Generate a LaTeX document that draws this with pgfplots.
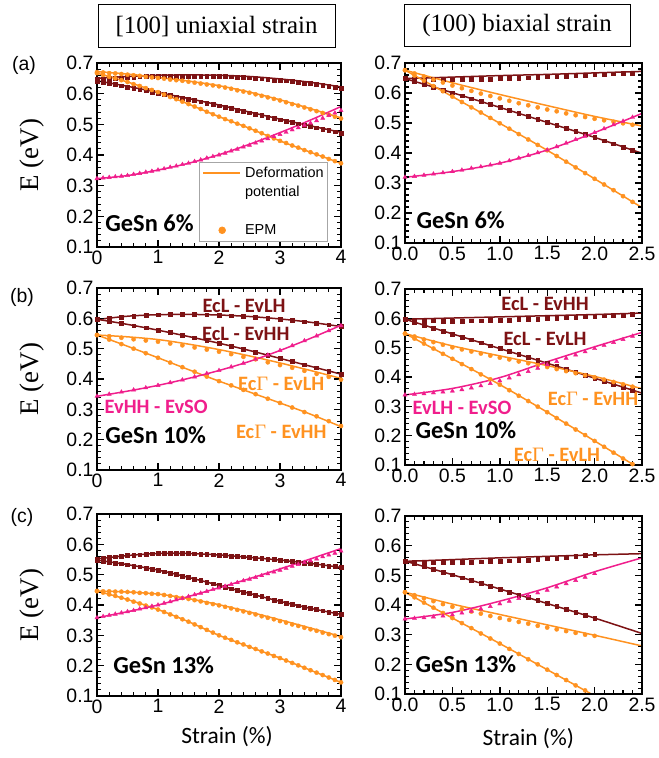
\documentclass[border=0pt]{standalone}
\usepackage{fontspec}
\usepackage{pgfplots}
\usepackage{pgfplotstable}
\pgfplotsset{compat=1.18}
\setmainfont{Liberation Sans}
\newfontfamily\tickf{Liberation Sans}
\newfontfamily\serp{Liberation Serif}
\newfontfamily\calf{Carlito}
\definecolor{dred}{RGB}{125,18,20}
\definecolor{orng}{RGB}{255,146,32}
\definecolor{pnk}{RGB}{240,30,140}

% ---------- data: x, a=EcL(upper), b=EcL(lower), c=EcG(upper), d=EcG(lower), e=EvSO
\pgfplotstableread{
x a b c d e
0.0 0.650 0.642 0.672 0.667 0.323
0.5 0.656 0.624 0.664 0.638 0.333
1.0 0.660 0.604 0.653 0.605 0.351
1.5 0.661 0.584 0.641 0.566 0.373
2.0 0.660 0.563 0.626 0.525 0.401
2.5 0.656 0.540 0.605 0.487 0.435
3.0 0.648 0.517 0.580 0.446 0.473
3.5 0.637 0.495 0.551 0.409 0.514
4.0 0.622 0.474 0.521 0.373 0.558
}\datALline
\pgfplotstableread{
x a b c d e
0.0 0.648 0.641 0.670 0.667 0.323
0.1 0.649 0.637 0.669 0.661 0.325
0.2 0.650 0.634 0.667 0.655 0.327
0.3 0.651 0.630 0.666 0.650 0.329
0.4 0.652 0.626 0.664 0.644 0.331
0.5 0.653 0.622 0.662 0.638 0.333
0.6 0.654 0.618 0.660 0.631 0.337
0.7 0.655 0.614 0.658 0.625 0.340
0.8 0.656 0.610 0.655 0.618 0.344
0.9 0.656 0.606 0.653 0.612 0.347
1.0 0.657 0.602 0.651 0.605 0.351
1.1 0.657 0.598 0.649 0.597 0.355
1.2 0.657 0.594 0.646 0.589 0.360
1.3 0.658 0.590 0.644 0.582 0.364
1.4 0.658 0.586 0.642 0.574 0.369
1.5 0.658 0.582 0.639 0.566 0.373
1.6 0.658 0.578 0.636 0.558 0.379
1.7 0.658 0.574 0.633 0.550 0.384
1.8 0.657 0.569 0.630 0.541 0.390
1.9 0.657 0.565 0.627 0.533 0.395
2.0 0.657 0.561 0.624 0.525 0.400
2.1 0.656 0.556 0.620 0.517 0.406
2.2 0.655 0.552 0.616 0.510 0.413
2.3 0.654 0.547 0.611 0.502 0.419
2.4 0.653 0.543 0.607 0.495 0.426
2.5 0.652 0.538 0.603 0.487 0.432
2.6 0.650 0.533 0.598 0.479 0.439
2.7 0.649 0.529 0.593 0.471 0.446
2.8 0.647 0.524 0.588 0.462 0.453
2.9 0.645 0.520 0.583 0.454 0.460
3.0 0.644 0.515 0.578 0.446 0.467
3.1 0.642 0.511 0.572 0.439 0.474
3.2 0.640 0.506 0.566 0.431 0.482
3.3 0.637 0.502 0.561 0.424 0.489
3.4 0.635 0.497 0.555 0.416 0.497
3.5 0.633 0.493 0.549 0.409 0.504
3.6 0.630 0.489 0.543 0.402 0.512
3.7 0.627 0.485 0.537 0.395 0.520
3.8 0.624 0.480 0.531 0.387 0.529
3.9 0.621 0.476 0.525 0.380 0.537
4.0 0.618 0.472 0.519 0.373 0.545
}\datALepm
\pgfplotstableread{
x a b c d e
0.0 0.596 0.597 0.545 0.545 0.343
0.5 0.607 0.580 0.539 0.508 0.360
1.0 0.612 0.561 0.530 0.470 0.379
1.5 0.613 0.540 0.515 0.431 0.402
2.0 0.611 0.518 0.497 0.393 0.428
2.5 0.606 0.494 0.476 0.357 0.458
3.0 0.598 0.468 0.453 0.321 0.494
3.5 0.587 0.442 0.428 0.284 0.534
4.0 0.573 0.416 0.402 0.243 0.577
}\datBLline
\pgfplotstableread{
x a b c d e
0.0 0.596 0.597 0.545 0.545 0.343
0.2 0.601 0.590 0.541 0.530 0.350
0.4 0.605 0.583 0.536 0.515 0.357
0.6 0.608 0.576 0.531 0.500 0.364
0.8 0.610 0.569 0.527 0.485 0.371
1.0 0.612 0.561 0.523 0.470 0.379
1.2 0.613 0.553 0.517 0.454 0.388
1.4 0.613 0.544 0.511 0.439 0.397
1.6 0.613 0.536 0.504 0.424 0.407
1.8 0.612 0.527 0.497 0.408 0.418
2.0 0.611 0.518 0.490 0.393 0.428
2.2 0.609 0.508 0.482 0.379 0.440
2.4 0.607 0.499 0.473 0.364 0.452
2.6 0.604 0.489 0.465 0.350 0.465
2.8 0.601 0.478 0.455 0.335 0.479
3.0 0.598 0.468 0.446 0.321 0.494
3.2 0.594 0.458 0.437 0.306 0.510
3.4 0.589 0.447 0.427 0.291 0.526
3.6 0.584 0.437 0.417 0.277 0.542
3.8 0.579 0.426 0.407 0.261 0.559
4.0 0.573 0.416 0.398 0.245 0.576
}\datBLepm
\pgfplotstableread{
x a b c d e
0.0 0.552 0.548 0.446 0.446 0.358
0.5 0.563 0.533 0.443 0.418 0.378
1.0 0.570 0.515 0.436 0.385 0.400
1.5 0.570 0.491 0.421 0.345 0.428
2.0 0.565 0.465 0.401 0.300 0.457
2.5 0.557 0.438 0.377 0.262 0.487
3.0 0.548 0.412 0.351 0.225 0.519
3.5 0.537 0.389 0.324 0.185 0.552
4.0 0.524 0.369 0.296 0.145 0.586
}\datCLline
\pgfplotstableread{
x a b c d e
0.0 0.552 0.548 0.446 0.446 0.358
0.1 0.554 0.545 0.445 0.441 0.362
0.2 0.557 0.542 0.445 0.435 0.366
0.3 0.559 0.539 0.444 0.430 0.370
0.4 0.561 0.536 0.444 0.424 0.374
0.5 0.563 0.533 0.443 0.418 0.378
0.6 0.565 0.529 0.442 0.411 0.382
0.7 0.566 0.526 0.440 0.405 0.387
0.8 0.567 0.522 0.439 0.398 0.391
0.9 0.569 0.519 0.437 0.392 0.396
1.0 0.570 0.515 0.436 0.385 0.400
1.1 0.570 0.510 0.433 0.377 0.406
1.2 0.570 0.505 0.430 0.369 0.411
1.3 0.570 0.501 0.426 0.361 0.417
1.4 0.570 0.496 0.423 0.353 0.422
1.5 0.570 0.491 0.420 0.345 0.428
1.6 0.569 0.486 0.416 0.336 0.434
1.7 0.568 0.481 0.412 0.327 0.439
1.8 0.567 0.475 0.407 0.318 0.445
1.9 0.566 0.470 0.403 0.309 0.451
2.0 0.565 0.465 0.399 0.300 0.456
2.1 0.563 0.460 0.394 0.292 0.462
2.2 0.562 0.454 0.389 0.285 0.468
2.3 0.560 0.449 0.384 0.277 0.474
2.4 0.559 0.443 0.379 0.270 0.480
2.5 0.557 0.438 0.374 0.262 0.485
2.6 0.555 0.433 0.369 0.255 0.491
2.7 0.553 0.428 0.363 0.247 0.497
2.8 0.552 0.422 0.358 0.240 0.503
2.9 0.550 0.417 0.353 0.232 0.509
3.0 0.548 0.412 0.347 0.225 0.515
3.1 0.546 0.407 0.342 0.217 0.521
3.2 0.544 0.403 0.336 0.209 0.528
3.3 0.541 0.398 0.331 0.201 0.534
3.4 0.539 0.394 0.325 0.193 0.540
3.5 0.537 0.389 0.320 0.185 0.546
3.6 0.534 0.385 0.315 0.177 0.552
3.7 0.532 0.381 0.309 0.169 0.559
3.8 0.529 0.377 0.304 0.161 0.565
3.9 0.527 0.373 0.299 0.153 0.571
4.0 0.524 0.369 0.294 0.145 0.578
}\datCLepm
\pgfplotstableread{
x a b c d e
0.0 0.648 0.648 0.676 0.676 0.319
0.5 0.653 0.601 0.634 0.588 0.338
1.0 0.658 0.552 0.595 0.499 0.366
1.5 0.662 0.502 0.558 0.409 0.410
2.0 0.667 0.452 0.522 0.314 0.468
2.5 0.672 0.399 0.490 0.218 0.532
}\datARline
\pgfplotstableread{
x a b c d e
0.0 0.648 0.648 0.676 0.676 0.319
0.1 0.647 0.639 0.665 0.658 0.322
0.2 0.646 0.629 0.655 0.641 0.326
0.3 0.645 0.620 0.645 0.623 0.330
0.4 0.645 0.610 0.635 0.606 0.334
0.5 0.645 0.601 0.625 0.588 0.338
0.6 0.645 0.591 0.616 0.570 0.343
0.7 0.646 0.581 0.607 0.552 0.349
0.8 0.646 0.572 0.598 0.535 0.354
0.9 0.647 0.562 0.590 0.517 0.360
1.0 0.648 0.552 0.582 0.499 0.366
1.1 0.649 0.542 0.574 0.481 0.374
1.2 0.650 0.532 0.566 0.463 0.383
1.3 0.651 0.522 0.559 0.445 0.392
1.4 0.652 0.512 0.552 0.427 0.401
1.5 0.654 0.502 0.545 0.409 0.410
1.6 0.655 0.492 0.539 0.390 0.421
1.7 0.656 0.482 0.532 0.371 0.433
1.8 0.658 0.472 0.526 0.352 0.445
1.9 0.659 0.462 0.520 0.333 0.456
2.0 0.661 0.452 0.514 0.314 0.468
2.1 0.662 0.441 0.509 0.295 0.481
2.2 0.664 0.431 0.504 0.276 0.494
2.3 0.665 0.420 0.499 0.256 0.506
2.4 0.667 0.410 0.494 0.237 0.519
}\datARepm
\pgfplotstableread{
x a b c d e
0.0 0.597 0.597 0.548 0.548 0.339
0.5 0.601 0.547 0.506 0.462 0.361
1.0 0.605 0.497 0.472 0.374 0.398
1.5 0.609 0.447 0.439 0.280 0.452
2.0 0.613 0.396 0.402 0.182 0.503
2.5 0.618 0.345 0.360 0.083 0.552
}\datBRline
\pgfplotstableread{
x a b c d e
0.0 0.597 0.597 0.548 0.548 0.339
0.1 0.595 0.587 0.538 0.531 0.341
0.2 0.593 0.577 0.528 0.514 0.343
0.3 0.592 0.567 0.519 0.497 0.346
0.4 0.591 0.557 0.510 0.479 0.349
0.5 0.591 0.547 0.501 0.462 0.352
0.6 0.591 0.537 0.494 0.444 0.357
0.7 0.592 0.527 0.487 0.427 0.363
0.8 0.592 0.517 0.480 0.409 0.370
0.9 0.593 0.507 0.473 0.392 0.378
1.0 0.594 0.497 0.466 0.374 0.387
1.1 0.595 0.487 0.460 0.355 0.397
1.2 0.596 0.477 0.453 0.336 0.408
1.3 0.597 0.467 0.447 0.318 0.419
1.4 0.598 0.457 0.440 0.299 0.430
1.5 0.600 0.447 0.434 0.280 0.442
1.6 0.601 0.437 0.427 0.260 0.453
1.7 0.603 0.427 0.420 0.241 0.464
1.8 0.604 0.416 0.413 0.221 0.475
1.9 0.606 0.406 0.406 0.202 0.486
2.0 0.607 0.396 0.399 0.182 0.497
2.1 0.609 0.386 0.391 0.162 0.508
2.2 0.611 0.376 0.383 0.142 0.518
2.3 0.612 0.365 0.375 0.122 0.528
2.4 0.614 0.355 0.367 0.103 0.539
}\datBRepm
\pgfplotstableread{
x a b c d e
0.0 0.547 0.548 0.443 0.443 0.353
0.5 0.553 0.502 0.403 0.356 0.375
1.0 0.559 0.454 0.368 0.270 0.413
1.5 0.564 0.405 0.333 0.182 0.458
2.0 0.569 0.356 0.298 0.094 0.512
2.5 0.573 0.304 0.262 0.006 0.559
}\datCRline
\pgfplotstableread{
x a b c d e
0.0 0.548 0.548 0.443 0.443 0.353
0.1 0.546 0.539 0.433 0.426 0.355
0.2 0.545 0.530 0.423 0.408 0.357
0.3 0.544 0.521 0.413 0.391 0.360
0.4 0.544 0.511 0.403 0.373 0.363
0.5 0.544 0.502 0.394 0.356 0.367
0.6 0.545 0.492 0.386 0.339 0.373
0.7 0.545 0.483 0.378 0.322 0.379
0.8 0.546 0.473 0.371 0.304 0.387
0.9 0.547 0.464 0.363 0.287 0.395
1.0 0.548 0.454 0.356 0.270 0.404
1.1 0.549 0.444 0.350 0.252 0.413
1.2 0.551 0.434 0.343 0.235 0.422
1.3 0.552 0.425 0.337 0.217 0.431
1.4 0.554 0.415 0.330 0.200 0.441
1.5 0.556 0.405 0.324 0.182 0.450
1.6 0.558 0.395 0.318 0.164 0.461
1.7 0.561 0.385 0.312 0.147 0.472
1.8 0.564 0.376 0.306 0.129 0.483
1.9 0.567 0.366 0.300 0.112 0.494
2.0 0.571 0.356 0.296 nan 0.506
}\datCRepm

\pgfplotsset{
 myframe/.style={
   axis on top,
   axis line style={line width=2.2bp},
   major tick style={line width=1.4bp, black},
   minor tick style={line width=1.1bp, black},
   major tick length=7bp, minor tick length=3.8bp,
 },
 mypanel/.style={
   scale only axis, anchor=south west,
   axis background/.style={draw=black, line width=2.2bp},
   ymin=0.1, ymax=0.7, ytick={0.1,0.2,0.3,0.4,0.5,0.6,0.7}, minor y tick num=4,
   tick label style={font=\tickf\fontsize{19.5}{21}\selectfont, /pgf/number format/assume math mode=true},
   yticklabel style={/pgf/number format/fixed, /pgf/number format/fixed zerofill, /pgf/number format/precision=1},
   ylabel style={font=\serp\fontsize{27}{30}\selectfont},
   xlabel style={font=\calf\fontsize{23.5}{26}\selectfont},
 },
 myleft/.style={mypanel, width=244bp, xmin=0, xmax=4, xtick={0,1,2,3,4}, minor x tick num=4,
   ylabel={E (eV)}, ylabel style={at={(axis description cs:-0.266,0.5)}, anchor=center}},
 myright/.style={mypanel, width=237bp, xmin=0, xmax=2.5, xtick={0,0.5,1,1.5,2,2.5}, minor x tick num=4,
   xticklabel style={/pgf/number format/fixed, /pgf/number format/fixed zerofill, /pgf/number format/precision=1}},
 mydpl/.style={line width=1.5bp, smooth, no marks, forget plot},
 myepm/.style={only marks, forget plot, mark size=#1},
}
\tikzset{
 gesnlab/.style={anchor=base west, font=\calf\bfseries\fontsize{24.5}{26}\selectfont},
 curvelab/.style={font=\calf\bfseries\fontsize{20.5}{22}\selectfont},
}
\newcommand\GammaSym{{\serp\mdseries\fontsize{20.5}{22}\selectfont Γ}}
\newcommand\drawpanelcurves[2]{%
 \addplot[dred,mydpl] table[x=x,y=a]{#1};
 \addplot[dred,mydpl] table[x=x,y=b]{#1};
 \addplot[orng,mydpl] table[x=x,y=c]{#1};
 \addplot[orng,mydpl] table[x=x,y=d]{#1};
 \addplot[pnk,mydpl] table[x=x,y=e]{#1};
 \addplot[dred,myepm=1.9bp,mark=square*] table[x=x,y=a]{#2};
 \addplot[dred,myepm=1.9bp,mark=square*] table[x=x,y=b]{#2};
 \addplot[orng,myepm=2.1bp,mark=*] table[x=x,y=c]{#2};
 \addplot[orng,myepm=2.1bp,mark=*] table[x=x,y=d]{#2};
 \addplot[pnk,myepm=2.4bp,mark=triangle*] table[x=x,y=e]{#2};
}

\begin{document}
\begin{tikzpicture}
\useasboundingbox (0bp,0bp) rectangle (659bp,758bp);
\node[draw, line width=1bp, minimum width=237bp, minimum height=43bp, inner sep=0pt,
  font=\serp\fontsize{25}{27}\selectfont] at (216.5bp,731.5bp) {[100] uniaxial strain};
\node[draw, line width=1bp, minimum width=226bp, minimum height=42bp, inner sep=0pt,
  font=\serp\fontsize{25}{27}\selectfont] at (517bp,732bp) {(100) biaxial strain};
\node[font=\tickf\fontsize{19.5}{21}\selectfont] at (24bp,693bp) {(a)};
\node[font=\tickf\fontsize{19.5}{21}\selectfont] at (22bp,461bp) {(b)};
\node[font=\tickf\fontsize{19.5}{21}\selectfont] at (22bp,241bp) {(c)};

% (a) left
\begin{axis}[myleft, height=184bp, at={(97bp,511bp)},
  legend style={at={(0.947,0.462)}, anchor=north east, draw=gray!70, line width=0.6bp, fill=white,
    font=\tickf\fontsize{14.5}{16}\selectfont, row sep=3bp, inner sep=3bp,
    nodes={inner sep=1bp, text height=11bp, text depth=3bp},
    /tikz/every odd column/.append style={column sep=3bp}},
  legend cell align=left, myframe]
 \addlegendimage{legend image code/.code={\draw[orng, line width=1.8bp] (0bp,0bp) -- (37bp,0bp);}}
 \addlegendentry{Deformation}
 \addlegendimage{empty legend}\addlegendentry{potential}
 \addlegendimage{empty legend}\addlegendentry{}
 \addlegendimage{legend image code/.code={\fill[orng] (19bp,0bp) circle (3.4bp);}}
 \addlegendentry{EPM}
 \drawpanelcurves{\datALline}{\datALepm}
 \node[gesnlab] at (rel axis cs:0.02,0.082) {GeSn 6\%};
\end{axis}

% (a) right
\begin{axis}[myright, height=180bp, at={(405bp,515bp)}, myframe]
 \drawpanelcurves{\datARline}{\datARepm}
 \node[gesnlab] at (rel axis cs:0.034,0.083) {GeSn 6\%};
\end{axis}

% (b) left
\begin{axis}[myleft, height=182bp, at={(97bp,288bp)}, myframe]
 \drawpanelcurves{\datBLline}{\datBLepm}
 \node[gesnlab] at (rel axis cs:0.02,0.148) {GeSn 10\%};
 \node[curvelab, text=dred] at (axis cs:2.41,0.641) {EcL - EvLH};
 \node[curvelab, text=dred] at (axis cs:2.44,0.548) {EcL - EvHH};
 \node[curvelab, text=orng] at (axis cs:3.02,0.383) {Ec\GammaSym\ - EvLH};
 \node[curvelab, text=pnk] at (axis cs:0.97,0.307) {EvHH - EvSO};
 \node[curvelab, text=orng] at (axis cs:3.02,0.225) {Ec\GammaSym\ - EvHH};
\end{axis}

% (b) right
\begin{axis}[myright, height=176bp, at={(405bp,293bp)}, myframe]
 \drawpanelcurves{\datBRline}{\datBRepm}
 \node[gesnlab] at (rel axis cs:0.03,0.153) {GeSn 10\%};
 \node[curvelab, text=dred] at (axis cs:1.477,0.649) {EcL - EvHH};
 \node[curvelab, text=dred] at (axis cs:1.477,0.529) {EcL - EvLH};
 \node[curvelab, text=orng] at (axis cs:1.983,0.325) {Ec\GammaSym\ - EvHH};
 \node[curvelab, text=pnk] at (axis cs:0.601,0.294) {EvLH - EvSO};
 \node[curvelab, text=orng] at (axis cs:1.603,0.134) {Ec\GammaSym\ - EvLH};
\end{axis}

% (c) left
\begin{axis}[myleft, height=182bp, at={(97bp,62bp)}, xlabel={Strain (\%)},
  xlabel style={at={(axis description cs:0.533,0)}, anchor=center, yshift=-41bp}, myframe]
 \drawpanelcurves{\datCLline}{\datCLepm}
 \node[gesnlab] at (rel axis cs:0.053,0.126) {GeSn 13\%};
\end{axis}

% (c) right
\begin{axis}[myright, height=178bp, at={(405bp,64bp)}, xlabel={Strain (\%)},
  xlabel style={at={(axis description cs:0.52,0)}, anchor=center, yshift=-45bp}, myframe]
 \drawpanelcurves{\datCRline}{\datCRepm}
 \node[gesnlab] at (rel axis cs:0.03,0.118) {GeSn 13\%};
\end{axis}
\end{tikzpicture}
\end{document}
